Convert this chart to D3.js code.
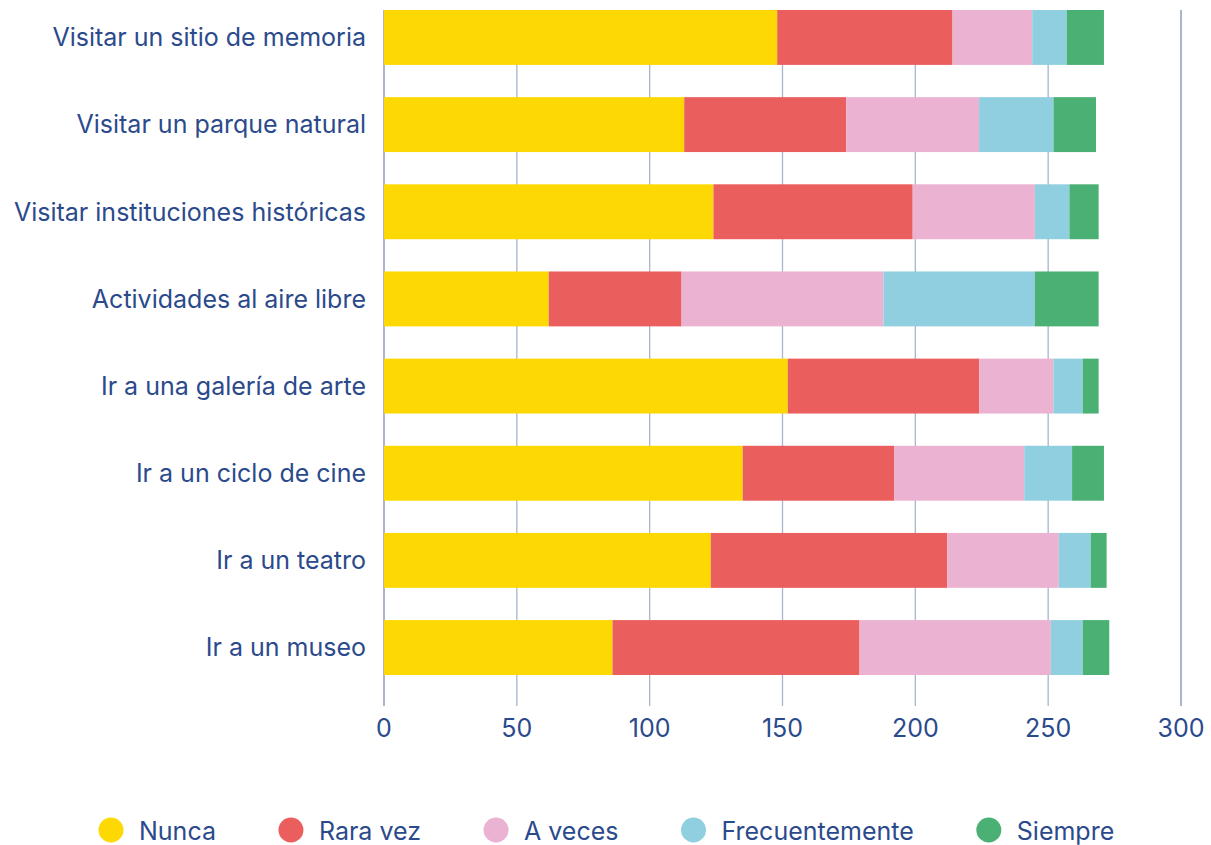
<!DOCTYPE html>
<html>
<head>
    <meta charset="utf-8"/>
    <script src="https://d3js.org/d3.v7.min.js"></script>
</head>
<style>
    body { margin: 0; background: #fff; }
    svg { font-family: "Inter", "Lato", sans-serif; }
</style>
<body>
<svg class="main" width="1211" height="845"></svg>

<script>
    var activities = ["Visitar un sitio de memoria", "Visitar un parque natural", "Visitar instituciones históricas",
        "Actividades al aire libre", "Ir a una galería de arte", "Ir a un ciclo de cine", "Ir a un teatro", "Ir a un museo"]
    var answers = ["Nunca", "Rara vez", "A veces", "Frecuentemente", "Siempre"]
    var colors = ["#fdd803", "#eb5e5e", "#ebb2d1", "#8fcfdf", "#4bb074"]

    var nunca = [148, 113, 124, 62, 152, 135, 123, 86]
    var raraVez = [66, 61, 75, 50, 72, 57, 89, 93]
    var aVeces = [30, 50, 46, 76, 28, 49, 42, 72]
    var frecuentemente = [13, 28, 13, 57, 11, 18, 12, 12]
    var siempre = [14, 16, 11, 24, 6, 12, 6, 10]
    var xTicks = [0, 50, 100, 150, 200, 250, 300]

    var series = [nunca, raraVez, aVeces, frecuentemente, siempre]
    var rows = activities.map(function (a, i) {
        var r = {activity: a}
        answers.forEach(function (k, j) { r[k] = series[j][i] })
        return r
    })

    var textColor = "#2b4a8c"
    var fontSize = "25px"
    var svg = d3.select("svg.main")

    var x = d3.scaleLinear().domain([0, 300]).range([384, 1181])
    var y = d3.scaleBand().domain(activities).range([10, 675]).paddingInner(0.37).paddingOuter(0)

    // grid lines
    svg.append("g").selectAll("line")
        .data(xTicks)
        .enter().append("line")
        .attr("x1", function (d) { return x(d) })
        .attr("x2", function (d) { return x(d) })
        .attr("y1", 10)
        .attr("y2", 706)
        .attr("stroke", function (d) { return (d == 0 || d == 300) ? "#7d8db4" : "#a9b5cc" })
        .attr("stroke-width", 1.3)

    var stacked = d3.stack().keys(answers)(rows)

    svg.append("g").selectAll("g")
        .data(stacked)
        .enter().append("g")
        .attr("fill", function (d, i) { return colors[i] })
        .selectAll("rect")
        .data(function (d) { return d })
        .enter().append("rect")
        .attr("x", function (d) { return x(d[0]) })
        .attr("width", function (d) { return x(d[1]) - x(d[0]) })
        .attr("y", function (d) { return y(d.data.activity) })
        .attr("height", y.bandwidth())

    // category labels
    svg.append("g").selectAll("text")
        .data(activities)
        .enter().append("text")
        .attr("x", 366)
        .attr("y", function (d) { return y(d) + y.bandwidth() / 2 })
        .attr("dy", "0.35em")
        .attr("text-anchor", "end")
        .attr("fill", textColor)
        .style("font-size", fontSize)
        .text(function (d) { return d })

    // x tick labels
    svg.append("g").selectAll("text")
        .data(xTicks)
        .enter().append("text")
        .attr("x", function (d) { return x(d) })
        .attr("y", 737)
        .attr("text-anchor", "middle")
        .attr("fill", textColor)
        .style("font-size", fontSize)
        .text(function (d) { return d })

    // legend
    var legend = svg.append("g")
    var lx = 98
    answers.forEach(function (a, i) {
        var item = legend.append("g").attr("transform", "translate(" + lx + ",830)")
        item.append("circle").attr("cx", 13).attr("cy", 0).attr("r", 12.5).attr("fill", colors[i])
        var t = item.append("text")
            .attr("x", 41)
            .attr("y", 10)
            .attr("fill", textColor)
            .style("font-size", fontSize)
            .text(a)
        lx += 41 + t.node().getComputedTextLength() + 62
    })
</script>
</body>
</html>
